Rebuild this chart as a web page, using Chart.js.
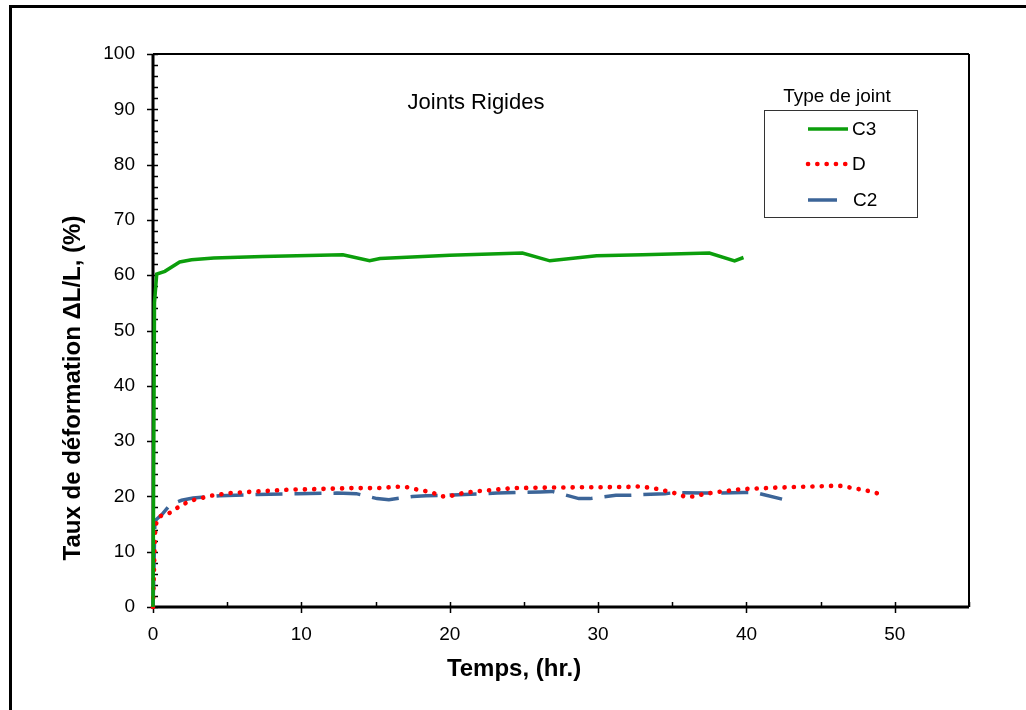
<!DOCTYPE html>
<html>
<head>
<meta charset="utf-8">
<script src="https://cdn.jsdelivr.net/npm/chart.js@4.4.1/dist/chart.umd.min.js"></script>
<style>
  html, body { margin: 0; padding: 0; background: #fff; }
  #wrap { width: 1026px; height: 710px; }
</style>
</head>
<body>
<div id="wrap"><canvas id="chart" width="1026" height="710"></canvas></div>
<script>
// Temps (hr.) / taux de déformation (%)
const timeC3 = [0, 0.1, 0.25, 0.8, 1.8, 2.6, 4.1, 7.4, 9.7, 12.8, 14.6, 15.3, 20, 24.9, 26.75, 29.9, 33, 37.5, 39.2, 39.8];
const defC3  = [0, 55, 60.2, 60.7, 62.4, 62.8, 63.1, 63.4, 63.5, 63.7, 62.6, 63.0, 63.6, 64.0, 62.6, 63.5, 63.7, 64.0, 62.6, 63.2];

const timeD = [0, 0.05, 0.1, 0.15, 0.25, 0.45, 1.0, 1.5, 2.05, 2.65, 3.3, 3.85, 4.5, 5.1, 6.4, 7.7, 9.0, 10.7, 13.3, 15.2, 16.4, 17.05, 17.7, 18.3, 18.9, 19.5, 20.1, 20.7, 21.7, 23.0, 24.3, 26.8, 31.9, 32.6, 33.4, 34.1, 34.7, 35.3, 35.9, 36.5, 37.1, 37.8, 39.6, 42.1, 44.5, 45.7, 46.4, 47.0, 47.6, 48.2, 48.9];
const defD  = [0, 5, 10, 14, 15.6, 16.4, 16.8, 17.7, 18.6, 19.3, 19.7, 20.1, 20.35, 20.6, 20.8, 21.0, 21.2, 21.3, 21.5, 21.5, 21.75, 21.7, 21.3, 21.0, 20.6, 20.0, 20.1, 20.5, 20.9, 21.2, 21.5, 21.6, 21.7, 21.8, 21.6, 21.3, 20.9, 20.5, 19.9, 20.0, 20.4, 20.7, 21.3, 21.6, 21.8, 21.9, 21.9, 21.6, 21.3, 21.0, 20.5];

const timeC2 = [0, 0.05, 0.1, 0.13, 0.6, 1.15, 1.93, 2.7, 4.5, 7.0, 9.7, 12.4, 13.7, 15.1, 15.9, 17.5, 18.4, 20.2, 23.2, 26.1, 26.9, 28.7, 29.45, 31.2, 32.0, 34.5, 35.3, 37.1, 38.0, 39.8, 40.6, 42.4];
const defC2  = [0, 5, 12, 15.6, 16.7, 18.5, 19.3, 19.7, 20.1, 20.35, 20.5, 20.6, 20.5, 19.6, 19.4, 20.0, 20.1, 20.25, 20.6, 20.8, 20.9, 19.6, 19.6, 20.2, 20.2, 20.5, 20.7, 20.6, 20.6, 20.7, 20.7, 19.5];

const xMin = 0, xMax = 55, xStep = 10, xMinorStep = 5, xLastLabel = 50;
const yMin = 0, yMax = 100, yStep = 10, yMinorStep = 2;

const FONT = "'Liberation Sans', Arial, sans-serif";

function toPoints(xs, ys) {
  return xs.map((x, i) => ({ x: x, y: ys[i] }));
}

// cadre, axes, graduations, titres et légende
const decor = {
  id: 'decor',
  beforeDatasetsDraw(chart) {
    const ctx = chart.ctx;
    const a = chart.chartArea;
    const xs = chart.scales.x, ys = chart.scales.y;
    ctx.save();
    ctx.strokeStyle = '#000';

    // cadre extérieur (gauche + haut)
    ctx.lineWidth = 3;
    ctx.strokeRect(10.5, 6.5, 1200, 900);

    // haut et droite de la zone de tracé
    ctx.lineWidth = 2;
    ctx.beginPath();
    ctx.moveTo(a.left, a.top); ctx.lineTo(a.right, a.top);
    ctx.moveTo(a.right, a.top); ctx.lineTo(a.right, a.bottom);
    ctx.stroke();

    // graduations Y
    ctx.lineWidth = 1.5;
    ctx.beginPath();
    for (let v = yMin; v <= yMax; v += yMinorStep) {
      const py = Math.round(ys.getPixelForValue(v)) + 0.5;
      const major = v % yStep === 0;
      ctx.moveTo(a.left - (major ? 6 : 0), py);
      ctx.lineTo(a.left + 5, py);
    }
    // graduations X
    for (let v = xMin; v <= xMax; v += xMinorStep) {
      const px = Math.round(xs.getPixelForValue(v)) + 0.5;
      const major = v % xStep === 0;
      ctx.moveTo(px, a.bottom - 5);
      ctx.lineTo(px, a.bottom + (major ? 6 : 0));
    }
    ctx.stroke();

    // axes
    ctx.lineWidth = 3;
    ctx.beginPath();
    ctx.moveTo(a.left, a.top); ctx.lineTo(a.left, a.bottom + 1.5);
    ctx.moveTo(a.left - 1.5, a.bottom); ctx.lineTo(a.right, a.bottom);
    ctx.stroke();
    ctx.restore();
  },
  afterDraw(chart) {
    const ctx = chart.ctx;
    ctx.save();
    ctx.fillStyle = '#000';
    ctx.textBaseline = 'middle';

    // titre Y
    ctx.save();
    ctx.translate(73, 388);
    ctx.rotate(-Math.PI / 2);
    ctx.textAlign = 'center';
    ctx.font = 'bold 24px ' + FONT;
    ctx.fillText('Taux de déformation ΔL/L, (%)', 0, 0);
    ctx.restore();

    // titre X
    ctx.textAlign = 'center';
    ctx.font = 'bold 24px ' + FONT;
    ctx.fillText('Temps, (hr.)', 514, 669);

    // annotation
    ctx.font = '22px ' + FONT;
    ctx.fillText('Joints Rigides', 476, 103);

    // légende
    ctx.font = '19px ' + FONT;
    ctx.fillText('Type de joint', 837, 97);
    ctx.strokeStyle = '#333';
    ctx.lineWidth = 1;
    ctx.strokeRect(764.5, 110.5, 153, 107);

    const rows = [129, 164, 200];
    chart.data.datasets.forEach((ds, i) => {
      const y = rows[i];
      const dash = ds.borderDash || [];
      const end = dash.length && dash[0] > 1 ? 808 + dash[0] + 2 : 848;
      ctx.save();
      ctx.strokeStyle = ds.borderColor;
      ctx.lineWidth = ds.borderWidth;
      ctx.lineCap = ds.borderCapStyle || 'butt';
      ctx.setLineDash(dash.length && dash[0] > 1 ? [] : dash);
      ctx.beginPath();
      ctx.moveTo(808, y);
      ctx.lineTo(end, y);
      ctx.stroke();
      ctx.restore();
      ctx.textAlign = 'left';
      ctx.fillText(ds.label, i === 2 ? 853 : 852, y + 1);
    });
    ctx.restore();
  }
};

new Chart(document.getElementById('chart'), {
  type: 'scatter',
  data: {
    datasets: [
      {
        label: 'C3',
        data: toPoints(timeC3, defC3),
        showLine: true,
        borderColor: '#0c9e0c',
        borderWidth: 3.5,
        pointRadius: 0,
        tension: 0,
        clip: 8
      },
      {
        label: 'D',
        data: toPoints(timeD, defD),
        showLine: true,
        borderColor: '#ff0000',
        borderWidth: 4.6,
        borderCapStyle: 'round',
        borderDash: [0.1, 9.2],
        pointRadius: 0,
        tension: 0,
        clip: 8
      },
      {
        label: 'C2',
        data: toPoints(timeC2, defC2),
        showLine: true,
        borderColor: '#3c6598',
        borderWidth: 3.5,
        borderDash: [27, 12],
        pointRadius: 0,
        tension: 0,
        clip: 8
      }
    ]
  },
  options: {
    responsive: false,
    animation: false,
    layout: { padding: { left: 0, top: 54, right: 57, bottom: 0 } },
    plugins: {
      legend: { display: false },
      title: { display: false },
      tooltip: { enabled: false }
    },
    scales: {
      x: {
        type: 'linear',
        min: xMin,
        max: xMax,
        grid: { display: false, drawTicks: false },
        border: { display: false },
        ticks: {
          stepSize: xStep,
          padding: 16,
          color: '#000',
          font: { family: FONT, size: 19 }
        },
        afterBuildTicks: s => { s.ticks = s.ticks.filter(t => t.value <= xLastLabel); },
        afterFit: s => { s.height = 103; }
      },
      y: {
        type: 'linear',
        min: yMin,
        max: yMax,
        grid: { display: false, drawTicks: false },
        border: { display: false },
        ticks: {
          stepSize: yStep,
          padding: 18,
          color: '#000',
          font: { family: FONT, size: 19 }
        },
        afterFit: s => { s.width = 153; }
      }
    }
  },
  plugins: [decor]
});
</script>
</body>
</html>
